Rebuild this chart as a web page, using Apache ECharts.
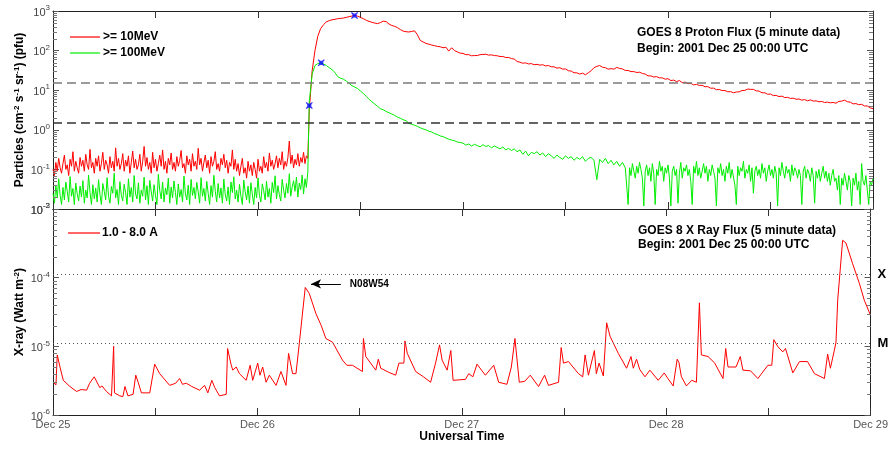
<!DOCTYPE html>
<html>
<head>
<meta charset="utf-8">
<script src="https://cdn.jsdelivr.net/npm/echarts@6/dist/echarts.min.js"></script>
<style>
html, body { margin: 0; padding: 0; background: #fff; }
#chart { width: 891px; height: 449px; }
</style>
</head>
<body>
<div id="chart"></div>
<script>
// GOES 8 proton and X-ray flux, 2001 Dec 25 00:00 UTC to Dec 29 00:00 UTC.
// Time axis is in hours since Dec 25 00:00.

const dayLabels = ['Dec 25', 'Dec 26', 'Dec 27', 'Dec 28', 'Dec 29'];

// >= 10 MeV protons (pfu): quiet background, 10-minute samples from 00:00 Dec 25
const p10QuietStart = 0, p10QuietStep = 1 / 6;
const p10Quiet = [
  0.10,0.07,0.15,0.09,0.19,0.11,0.08,0.14,0.23,0.10,
  0.13,0.07,0.18,0.12,0.28,0.09,0.16,0.11,0.08,0.20,
  0.12,0.17,0.09,0.24,0.13,0.10,0.32,0.11,0.15,0.08,
  0.19,0.12,0.22,0.09,0.14,0.27,0.10,0.17,0.13,0.08,
  0.21,0.11,0.16,0.09,0.35,0.12,0.19,0.10,0.14,0.25,
  0.09,0.17,0.12,0.22,0.08,0.15,0.29,0.11,0.18,0.10,
  0.13,0.24,0.09,0.16,0.38,0.12,0.20,0.10,0.15,0.08,
  0.27,0.11,0.18,0.09,0.14,0.23,0.12,0.31,0.10,0.16,
  0.08,0.19,0.13,0.26,0.10,0.15,0.09,0.21,0.12,0.17,
  0.30,0.11,0.14,0.08,0.22,0.13,0.18,0.09,0.25,0.12,
  0.16,0.10,0.34,0.13,0.19,0.09,0.15,0.23,0.11,0.17,
  0.08,0.21,0.12,0.16,0.28,0.10,0.14,0.09,0.19,0.13,
  0.24,0.11,0.17,0.08,0.15,0.12,0.31,0.10,0.18,0.09,
  0.14,0.07,0.12,0.19,0.08,0.11,0.06,0.16,0.09,0.13,
  0.07,0.15,0.10,0.06,0.18,0.09,0.12,0.08,0.21,0.11,
  0.15,0.09,0.26,0.12,0.17,0.10,0.14,0.22,0.11,0.19,
  0.13,0.28,0.10,0.16,0.12,0.20,0.52,0.14,0.23,0.11,
  0.18,0.13,0.25,0.12,0.20,0.15,0.27,0.14,0.22,0.19
];
// >= 10 MeV protons: event, 20-minute samples from 06:00 Dec 26
const p10EventStart = 30, p10EventStep = 1 / 3;
const p10Event = [
  3.0,30,100,230,360,450,530,570,600,615,
  640,650,665,690,720,745,770,740,690,640,
  585,545,520,495,480,510,555,540,470,430,
  410,380,340,310,300,295,305,315,250,180,
  165,152,145,138,133,128,125,118,122,97,
  118,100,93,86,85,79,79,74,75,75,
  79,80,81,77,78,75,74,71,71,67,
  67,63,61,53,51,48,49,46,47,44,
  45,43,44,41,42,39,39,36,37,34,
  34.5,31,30.5,27.5,27.5,25.5,27,24.5,27.5,31,
  37,40,42,38,37,34,35,34,37.5,35.5,
  34.5,31.5,31.5,29.5,29.5,28,28.5,26.5,25.5,23,
  23,21.5,22,20.5,20.5,19,19.5,17.5,18,16.5,
  17.5,15.5,16,14.6,15,13.6,14,13.2,13.3,12.2,
  12.3,11.2,11.3,10.3,10.4,9.8,9.8,9.1,9.2,8.6,
  9.0,9.1,9.8,9.9,10.7,10.5,10.5,9.6,9.5,8.6,
  8.6,7.9,8.0,7.3,7.4,6.9,7.1,6.5,6.6,6.2,
  6.3,5.9,6.0,5.6,5.8,5.4,5.7,5.3,5.4,5.1,
  5.2,4.9,5.0,4.8,4.9,4.7,5.2,5.3,5.6,5.1,
  5.0,4.5,4.6,4.3,4.4,4.0,4.0,3.6,3.4
];

// >= 100 MeV protons (pfu): quiet background, 10-minute samples from 00:00 Dec 25
const p100QuietStart = 0, p100QuietStep = 1 / 6;
const p100Quiet = [
  0.025,0.014,0.040,0.019,0.058,0.022,0.013,0.035,0.017,0.048,
  0.028,0.015,0.066,0.021,0.033,0.013,0.045,0.024,0.016,0.038,
  0.020,0.052,0.014,0.030,0.019,0.072,0.026,0.013,0.041,0.018,
  0.034,0.015,0.055,0.023,0.013,0.044,0.028,0.017,0.062,0.021,
  0.014,0.037,0.025,0.080,0.019,0.031,0.013,0.049,0.022,0.016,
  0.042,0.026,0.013,0.058,0.020,0.035,0.015,0.070,0.024,0.018,
  0.046,0.014,0.030,0.021,0.064,0.017,0.039,0.013,0.053,0.027,
  0.016,0.041,0.022,0.013,0.075,0.029,0.018,0.048,0.015,0.034,
  0.023,0.060,0.014,0.036,0.019,0.051,0.026,0.013,0.043,0.020,
  0.031,0.015,0.068,0.024,0.017,0.040,0.013,0.056,0.022,0.035,
  0.018,0.047,0.027,0.014,0.062,0.021,0.033,0.016,0.050,0.025,
  0.013,0.039,0.020,0.071,0.028,0.015,0.044,0.019,0.034,0.014,
  0.057,0.023,0.016,0.036,0.013,0.048,0.026,0.065,0.018,0.030,
  0.015,0.042,0.021,0.013,0.054,0.027,0.017,0.038,0.014,0.046,
  0.024,0.013,0.035,0.019,0.061,0.022,0.015,0.043,0.029,0.017,
  0.050,0.020,0.033,0.014,0.047,0.026,0.069,0.018,0.039,0.023,
  0.016,0.056,0.030,0.019,0.044,0.025,0.078,0.021,0.036,0.052,
  0.028,0.064,0.020,0.045,0.031,0.072,0.024,0.058,0.035,0.085
];
// >= 100 MeV protons: event decay, 20-minute samples from 06:00 Dec 26
const p100EventStart = 30, p100EventStep = 1 / 3;
const p100Event = [
  5,25,42,47,49,46,42,37,33,28,
  22,20,19,17,15,13,12,11,9.5,8.3,
  7,5.9,5.1,4.5,3.9,3.4,3.2,2.9,2.7,2.5,
  2.3,2.1,1.95,1.8,1.7,1.45,1.38,1.3,1.22,1.12,
  1.05,1.0,0.92,0.88,0.80,0.76,0.70,0.67,0.62,0.58,
  0.55,0.53,0.49,0.48,
  0.46,0.41,0.44,0.39,0.43,0.40,0.37,0.42,0.38,0.40,
  0.35,0.39,0.36,0.33,0.37,0.31,0.34,0.30,0.33,0.28,
  0.31,0.24,0.29,0.22,0.27,0.25,0.28,0.23,0.26,0.21,
  0.25,0.22,0.19,0.23,0.20,0.18,0.22,0.19,0.21,0.17,
  0.20,0.18,0.21,0.16,0.19,0.20,0.17,0.055,0.18,0.15,
  0.19,0.14,0.17,0.13,0.16,0.12,0.15,0.11
];
// >= 100 MeV protons: return to background, 10-minute samples from 19:20 Dec 27
const p100LateStart = 67 + 1 / 3, p100LateStep = 1 / 6;
const p100Late = [
  0.013,0.11,0.07,0.14,0.09,0.06,0.12,0.08,0.15,0.10,
  0.06,0.012,0.09,0.13,0.07,0.11,0.05,0.14,0.08,0.013,
  0.10,0.07,0.16,0.09,0.12,0.05,0.11,0.08,0.13,0.06,
  0.012,0.09,0.12,0.07,0.10,0.014,0.08,0.15,0.06,0.11,
  0.09,0.13,0.07,0.10,0.05,0.013,0.12,0.08,0.16,0.07,
  0.11,0.06,0.09,0.14,0.08,0.12,0.05,0.10,0.07,0.13,
  0.09,0.06,0.012,0.11,0.08,0.14,0.07,0.10,0.05,0.12,
  0.08,0.15,0.06,0.10,0.09,0.04,0.013,0.12,0.07,0.11,
  0.09,0.16,0.06,0.10,0.08,0.13,0.05,0.11,0.025,0.09,
  0.12,0.07,0.10,0.06,0.14,0.08,0.11,0.05,0.09,0.13,
  0.07,0.10,0.06,0.12,0.08,0.012,0.11,0.07,0.15,0.09,
  0.06,0.12,0.08,0.10,0.05,0.13,0.07,0.11,0.09,0.06,
  0.10,0.07,0.013,0.09,0.12,0.06,0.10,0.08,0.05,0.11,
  0.07,0.014,0.09,0.06,0.10,0.05,0.08,0.12,0.06,0.09,
  0.05,0.08,0.04,0.07,0.10,0.05,0.06,0.03,0.07,0.013,
  0.06,0.04,0.08,0.05,0.03,0.07,0.05,0.012,0.06,0.04,
  0.08,0.03,0.05,0.013,0.14,0.05,0.04,0.07,0.03,0.013,
  0.05,0.04,0.06
];

// Event markers on the proton curves
const markerHours = [30.0, 31.4, 35.3];
const markerFlux = [4.1, 49, 770];

// 1.0 - 8.0 A X-ray flux (W m^-2)
const xrayHours = [
  0.0,0.35,0.5,0.82,1.21,1.99,2.77,3.3,3.95,4.3,4.84,5.5,5.75,6.28,6.87,7.06,7.12,7.22,7.84,8.2,
  8.45,8.63,8.8,9.01,9.4,9.72,10.0,10.38,11.36,11.94,12.53,13.7,14.4,14.87,15.2,15.65,16.3,17.21,17.8,18.18,
  18.65,19.0,19.55,20.34,20.5,20.9,21.11,21.51,21.89,22.68,23.15,23.45,24.04,24.3,24.62,25.02,25.4,26.19,26.77,27.36,
  27.66,28.13,28.53,28.92,29.62,30.09,30.87,31.5,32.04,32.82,33.99,34.5,35.16,36.33,36.45,36.73,37.9,38.2,38.48,39.4,
  40.24,40.62,41.2,41.33,41.6,42.58,43.5,44.34,44.92,45.39,45.69,46.28,46.71,46.98,48.43,48.82,49.3,49.79,50.77,51.75,
  52.33,53.3,53.82,54.24,54.75,55.4,56.04,57.01,57.72,58.18,59.36,59.67,59.94,60.53,61.7,62.2,62.48,62.87,63.57,63.8,
  64.12,64.62,65.01,65.41,66.38,67.35,67.87,68.14,68.52,68.9,69.51,70.09,71.06,71.77,72.2,72.82,73.29,73.5,73.79,74.38,
  75.0,75.55,75.9,76.13,76.92,77.7,78.67,78.99,79.26,80.2,80.7,81.01,81.9,82.77,83.94,84.4,84.64,85.11,85.69,86.01,
  86.87,87.65,88.6,89.41,90.58,90.96,91.28,91.75,91.94,92.14,92.72,93.11,93.89,94.68,95.26,95.96
];
const xrayFlux = [
  3.0e-6,2.75e-6,7.5e-6,5.0e-6,3.2e-6,2.6e-6,2.2e-6,2.35e-6,2.3e-6,2.9e-6,3.6e-6,2.5e-6,2.65e-6,2.2e-6,1.9e-6,1.95e-6,1.0e-5,2.1e-6,1.9e-6,1.85e-6,
  2.6e-6,2.7e-6,1.9e-6,1.8e-6,2.0e-6,3.8e-6,3.0e-6,2.1e-6,2.1e-6,5.5e-6,4.0e-6,2.7e-6,2.9e-6,3.4e-6,2.8e-6,2.9e-6,2.6e-6,2.3e-6,2.7e-6,2.1e-6,
  3.2e-6,2.5e-6,1.9e-6,2.0e-6,9.3e-6,5.5e-6,4.5e-6,5.0e-6,4.0e-6,3.2e-6,5.3e-6,3.2e-6,5.7e-6,3.8e-6,5.0e-6,3.0e-6,3.8e-6,2.7e-6,4.3e-6,2.7e-6,
  7.9e-6,4.0e-6,4.0e-6,1.1e-5,7.2e-5,5.9e-5,3.0e-5,2.0e-5,1.3e-5,1.15e-5,6.3e-6,5.3e-6,5.3e-6,4.3e-6,1.3e-5,7.1e-6,4.5e-6,6.5e-6,4.8e-6,4.2e-6,
  3.8e-6,5.7e-6,5.7e-6,1.2e-5,7.9e-6,4.3e-6,3.6e-6,3.0e-6,5.7e-6,1.05e-5,6.3e-6,4.5e-6,8.7e-6,3.2e-6,3.3e-6,4.0e-6,3.6e-6,5.5e-6,3.8e-6,5.3e-6,
  3.0e-6,2.8e-6,5.0e-6,1.3e-5,3.0e-6,3.1e-6,3.8e-6,2.6e-6,3.8e-6,2.7e-6,3.0e-6,9.6e-6,5.7e-6,6.0e-6,4.0e-6,3.6e-6,7.5e-6,3.8e-6,8.7e-6,4.0e-6,
  5.7e-6,3.7e-6,2.2e-5,1.4e-5,7.9e-6,4.8e-6,7.1e-6,4.8e-6,6.5e-6,4.6e-6,3.6e-6,4.5e-6,3.2e-6,4.1e-6,3.4e-6,2.65e-6,6.5e-6,5.8e-6,3.6e-6,2.65e-6,
  3.2e-6,3.0e-6,4.3e-5,7.5e-6,7.1e-6,5.7e-6,3.4e-6,9.3e-6,5.0e-6,5.0e-6,7.1e-6,4.5e-6,4.4e-6,3.4e-6,5.3e-6,5.3e-6,1.25e-5,9.9e-6,8.3e-6,9.3e-6,
  4.1e-6,6.0e-6,6.0e-6,4.0e-6,3.4e-6,7.7e-6,4.8e-6,8.8e-6,1.15e-5,4.7e-5,3.5e-4,3.2e-4,1.6e-4,8.3e-5,4.7e-5,2.9e-5
];

// Reference levels
const protonAlertLevels = [15, 1.5];
const xrayClassLevels = [1.12e-4, 1.12e-5];
const xrayClassNames = ['X', 'M'];
// Flare annotation
const flareName = 'N08W54';
const flareArrowHours = [33.8, 30.3];
const flareArrowFlux = 8.1e-5;

const FONT = '"Liberation Sans", Arial, Helvetica, sans-serif';
const HOURS_MAX = 96;

// [hour, value] pairs for a block of evenly spaced samples
const segment = (start, step, values) => values.map((v, i) => [start + i * step, v]);

const p10Data = [
  ...segment(p10QuietStart, p10QuietStep, p10Quiet),
  ...segment(p10EventStart, p10EventStep, p10Event)
];
const p100Data = [
  ...segment(p100QuietStart, p100QuietStep, p100Quiet),
  ...segment(p100EventStart, p100EventStep, p100Event),
  ...segment(p100LateStart, p100LateStep, p100Late)
];
const xrayData = xrayHours.map((h, i) => [h, xrayFlux[i]]);
const markerData = markerHours.map((h, i) => [h, markerFlux[i]]);

// log-axis minor tick values (2..9 within each decade)
function minorValues(expFrom, expTo) {
  const out = [];
  for (let e = expFrom; e < expTo; e++) {
    for (let m = 2; m <= 9; m++) out.push([0, m * Math.pow(10, e)]);
  }
  return out;
}

function minorTickSeries(axisIdx, values, extra) {
  return Object.assign({
    type: 'custom',
    xAxisIndex: axisIdx,
    yAxisIndex: axisIdx,
    silent: true,
    z: 5,
    data: values,
    renderItem(params, api) {
      const v = api.value(1);
      const pl = api.coord([0, v]);
      const pr = api.coord([HOURS_MAX, v]);
      const y = Math.round(pl[1]) + 0.5;
      const xl = Math.round(pl[0]);
      const xr = Math.round(pr[0]);
      const st = { stroke: '#777', lineWidth: 1 };
      return {
        type: 'group',
        children: [
          { type: 'line', shape: { x1: xl, y1: y, x2: xl + 4, y2: y }, style: st },
          { type: 'line', shape: { x1: xr - 4, y1: y, x2: xr, y2: y }, style: st }
        ]
      };
    }
  }, extra || {});
}

const supRich = {
  b: { fontSize: 11, color: '#444', fontFamily: FONT, verticalAlign: 'bottom' },
  e: { fontSize: 8, color: '#444', fontFamily: FONT, verticalAlign: 'bottom', padding: [0, 0, 6, 0] }
};
const logLabel = v => '{b|10}{e|' + Math.round(Math.log10(v)) + '}';

const nameRich = {
  s: { fontSize: 8, fontWeight: 'bold', color: '#000', fontFamily: FONT, verticalAlign: 'bottom', padding: [0, 0, 6, 0] }
};

function xAxes(gridIndex, withLabels) {
  const base = {
    type: 'value', gridIndex, min: 0, max: HOURS_MAX, interval: 12,
    splitLine: { show: false },
    axisLine: { onZero: false, lineStyle: { color: '#222', width: 1 } },
    axisTick: { inside: true, length: 7, lineStyle: { color: '#333' } }
  };
  return [
    Object.assign({}, base, {
      position: 'bottom',
      axisLabel: withLabels ? {
        color: '#555', fontSize: 11, fontFamily: FONT, margin: 4,
        formatter: v => (v % 24 === 0 ? dayLabels[v / 24] : '')
      } : { show: false },
      name: withLabels ? 'Universal Time' : '',
      nameLocation: 'middle', nameGap: 16, nameMoveOverlap: false,
      nameTextStyle: { fontSize: 12, fontWeight: 'bold', color: '#000', fontFamily: FONT }
    }),
    Object.assign({}, base, { position: 'top', axisLabel: { show: false } })
  ];
}

function yAxes(gridIndex, min, max, name) {
  const base = {
    type: 'log', logBase: 10, gridIndex, min, max,
    splitLine: { show: false },
    axisLine: { show: true, onZero: false, lineStyle: { color: '#222', width: 1 } },
    axisTick: { inside: true, length: 6, lineStyle: { color: '#555' } }
  };
  return [
    Object.assign({}, base, {
      position: 'left',
      axisLabel: { formatter: logLabel, rich: supRich, margin: 3 },
      name, nameLocation: 'middle', nameGap: 26, nameMoveOverlap: false,
      nameTextStyle: { fontSize: 12, fontWeight: 'bold', color: '#000', fontFamily: FONT, rich: nameRich }
    }),
    Object.assign({}, base, { position: 'right', axisLabel: { show: false } })
  ];
}

// x axes: 0 bottom/upper panel, 1 top/upper panel, 2 bottom/lower panel, 3 top/lower panel
// y axes: 0 left/upper, 1 right/upper, 2 left/lower, 3 right/lower
const xa = [...xAxes(0, false), ...xAxes(1, true)];
const ya = [
  ...yAxes(0, 1e-2, 1e3, 'Particles (cm{s|-2} s{s|-1} sr{s|-1}) (pfu)'),
  ...yAxes(1, 1e-6, 1e-3, 'X-ray (Watt m{s|-2})')
];

// horizontal reference line spanning the whole time range
const levelLine = (level, lineStyle, label) => [
  { coord: [0, level], lineStyle, label: label || { show: false } },
  { coord: [HOURS_MAX, level] }
];

const chart = echarts.init(document.getElementById('chart'), null, { renderer: 'canvas' });

chart.setOption({
  animation: false,
  backgroundColor: '#fff',
  textStyle: { fontFamily: FONT },
  grid: [
    { left: 53, top: 11, width: 820, height: 198 },
    { left: 53, top: 209, width: 820, height: 206 }
  ],
  title: [
    {
      text: 'GOES 8 Proton Flux (5 minute data)\nBegin: 2001 Dec 25 00:00 UTC',
      left: 637, top: 25, padding: 0,
      textStyle: { fontSize: 12, fontWeight: 'bold', color: '#000', lineHeight: 16, fontFamily: FONT }
    },
    {
      text: 'GOES 8 X Ray Flux (5 minute data)\nBegin: 2001 Dec 25 00:00 UTC',
      left: 638, top: 223, padding: 0,
      textStyle: { fontSize: 12, fontWeight: 'bold', color: '#000', lineHeight: 14.5, fontFamily: FONT }
    }
  ],
  legend: [
    {
      data: ['>= 10MeV', '>= 100MeV'], orient: 'vertical', left: 70, top: 30, padding: 0,
      itemWidth: 30, itemHeight: 1.2, itemGap: 2, icon: 'rect',
      textStyle: { fontSize: 12, fontWeight: 'bold', color: '#000', lineHeight: 14, padding: [0, 0, 0, -2] },
      selectedMode: false
    },
    {
      data: ['1.0 - 8.0 A'], orient: 'vertical', left: 68, top: 226, padding: 0,
      itemWidth: 32, itemHeight: 1.2, icon: 'rect',
      textStyle: { fontSize: 12, fontWeight: 'bold', color: '#000', lineHeight: 14, padding: [0, 0, 0, -3] },
      selectedMode: false
    }
  ],
  xAxis: xa,
  yAxis: ya,
  series: [
    {
      name: '>= 10MeV', type: 'line', xAxisIndex: 0, yAxisIndex: 0,
      data: p10Data, showSymbol: false, symbol: 'none',
      lineStyle: { color: '#ff0000', width: 1 }, itemStyle: { color: '#ff0000' },
      silent: true, z: 2,
      markLine: {
        silent: true, symbol: 'none',
        data: [
          levelLine(protonAlertLevels[0], { color: '#7a7a7a', type: [9, 5], width: 1.5 }),
          levelLine(protonAlertLevels[1], { color: '#333', type: [9, 5], width: 1.5 })
        ]
      }
    },
    {
      name: '>= 100MeV', type: 'line', xAxisIndex: 0, yAxisIndex: 0,
      data: p100Data, showSymbol: false, symbol: 'none',
      lineStyle: { color: '#00ee00', width: 1 }, itemStyle: { color: '#00ee00' },
      silent: true, z: 3
    },
    {
      type: 'scatter', xAxisIndex: 0, yAxisIndex: 0, data: markerData,
      symbol: 'path://M1,0L5,3L9,0L10,1L7,5L10,9L9,10L5,7L1,10L0,9L3,5L0,1ZM2,2L8,2L8,8L2,8Z',
      symbolSize: 7, itemStyle: { color: '#0000ff' }, silent: true, z: 6
    },
    {
      name: '1.0 - 8.0 A', type: 'line', xAxisIndex: 2, yAxisIndex: 2,
      data: xrayData, showSymbol: false, symbol: 'none',
      lineStyle: { color: '#ff0000', width: 1 }, itemStyle: { color: '#ff0000' },
      silent: true, z: 2,
      markLine: {
        silent: true, symbol: 'none',
        data: xrayClassLevels.map((lv, i) => levelLine(lv,
          { color: '#555', type: [1, 3], width: 1 },
          {
            show: true, position: 'end', distance: 7, formatter: xrayClassNames[i],
            fontSize: 13, fontWeight: 'bold', color: '#000', fontFamily: FONT
          }))
      }
    },
    minorTickSeries(0, minorValues(-2, 3)),
    minorTickSeries(2, minorValues(-6, -3), {
      markLine: {
        silent: true,
        data: [[
          {
            coord: [flareArrowHours[0], flareArrowFlux], symbol: 'none',
            lineStyle: { color: '#000', type: 'solid', width: 1 },
            label: {
              show: true, position: 'start', distance: 9, formatter: flareName,
              fontSize: 10, fontWeight: 'bold', color: '#000', fontFamily: FONT
            }
          },
          { coord: [flareArrowHours[1], flareArrowFlux], symbol: 'arrow', symbolSize: [7, 10] }
        ]]
      }
    })
  ]
});
</script>
</body>
</html>
